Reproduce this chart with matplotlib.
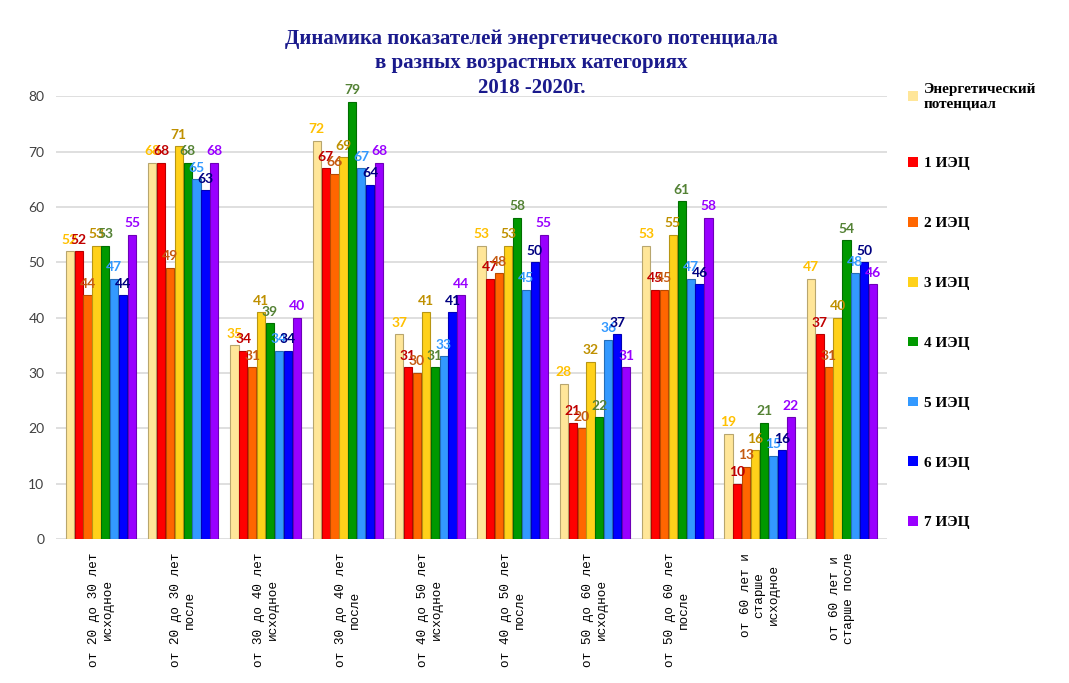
import numpy as np
import matplotlib.pyplot as plt
from matplotlib.patches import Patch
from matplotlib.colors import to_rgb

# ---------------------------------------------------------------------------
# data
# ---------------------------------------------------------------------------
categories = [
    "от 20 до 30 лет\nисходное",
    "от 20 до 30 лет\nпосле",
    "от 30 до 40 лет\nисходное",
    "от 30 до 40 лет\nпосле",
    "от 40 до 50 лет\nисходное",
    "от 40 до 50 лет\nпосле",
    "от 50 до 60 лет\nисходное",
    "от 50 до 60 лет\nпосле",
    "от 60 лет и\nстарше\nисходное",
    "от 60 лет и\nстарше после",
]

series_names = ["Энергетический\nпотенциал", "1 ИЭЦ", "2 ИЭЦ", "3 ИЭЦ",
                "4 ИЭЦ", "5 ИЭЦ", "6 ИЭЦ", "7 ИЭЦ"]

energy_potential = [52, 68, 35, 72, 37, 53, 28, 53, 19, 47]
iec_1 = [52, 68, 34, 67, 31, 47, 21, 45, 10, 37]
iec_2 = [44, 49, 31, 66, 30, 48, 20, 45, 13, 31]
iec_3 = [53, 71, 41, 69, 41, 53, 32, 55, 16, 40]
iec_4 = [53, 68, 39, 79, 31, 58, 22, 61, 21, 54]
iec_5 = [47, 65, 34, 67, 33, 45, 36, 47, 15, 48]
iec_6 = [44, 63, 34, 64, 41, 50, 37, 46, 16, 50]
iec_7 = [55, 68, 40, 68, 44, 55, 31, 58, 22, 46]

series_values = [energy_potential, iec_1, iec_2, iec_3, iec_4, iec_5, iec_6, iec_7]

bar_colors = ["#FFE699", "#FF0000", "#FF6600", "#FFD11A",
              "#009900", "#3399FF", "#0000FF", "#9900FF"]
label_colors = ["#FFC000", "#C00000", "#C55A11", "#BF9000",
                "#548235", "#3399FF", "#000080", "#9900FF"]

# ---------------------------------------------------------------------------
# plot
# ---------------------------------------------------------------------------
fig = plt.figure(figsize=(10.69, 6.83), dpi=100)
ax = fig.add_axes([0.052, 0.211, 0.778, 0.648])

x = np.arange(len(categories))
n = len(series_values)
width = 0.108

for i, (vals, col, lcol, name) in enumerate(zip(series_values, bar_colors,
                                                  label_colors, series_names)):
    pos = x + (i - (n - 1) / 2) * width
    edge = tuple(c * 0.72 for c in to_rgb(col))
    bars = ax.bar(pos, vals, width=width * 0.92, color=col, edgecolor=edge,
                  linewidth=0.8, label=name, zorder=3)
    ax.bar_label(bars, labels=[str(v) for v in vals], padding=4,
                 color=lcol, fontsize=10, fontweight="bold",
                 family="Lato", zorder=4)

ax.set_xlim(-0.55, len(categories) - 0.45)
ax.set_ylim(0, 80)
ax.set_yticks(np.arange(0, 81, 10))
ax.yaxis.grid(True, color="#D9D9D9", linewidth=1.2, zorder=0)
ax.set_axisbelow(True)
for s in ax.spines.values():
    s.set_visible(False)
ax.tick_params(axis="both", length=0)
ax.tick_params(axis="y", labelsize=10, labelcolor="#404040", pad=8)
for t in ax.get_yticklabels():
    t.set_family("Lato")

ax.set_xticks(x)
ax.set_xticklabels(categories, rotation=90, family="Liberation Mono",
                   fontsize=9.2, va="top", ha="center",
                   multialignment="center")
ax.tick_params(axis="x", pad=10)

fig.text(0.497, 0.958,
         "Динамика показателей энергетического потенциала\n"
         "в разных возрастных категориях\n2018 -2020г.",
         ha="center", va="top", fontsize=15, fontweight="bold",
         family="Liberation Serif", color="#1A1A8C", linespacing=1.3)

handles = [Patch(facecolor=c, edgecolor="none") for c in bar_colors]
leg = fig.legend(handles, series_names, loc="upper left",
                 bbox_to_anchor=(0.844, 0.888), frameon=False,
                 prop={"family": "Liberation Serif", "weight": "bold", "size": 11},
                 handlelength=0.6, handleheight=0.6, handletextpad=0.4,
                 labelspacing=3.05, borderaxespad=0)
for t in leg.get_texts():
    t.set_linespacing(1.2)

fig.savefig("out.png", dpi=100)
